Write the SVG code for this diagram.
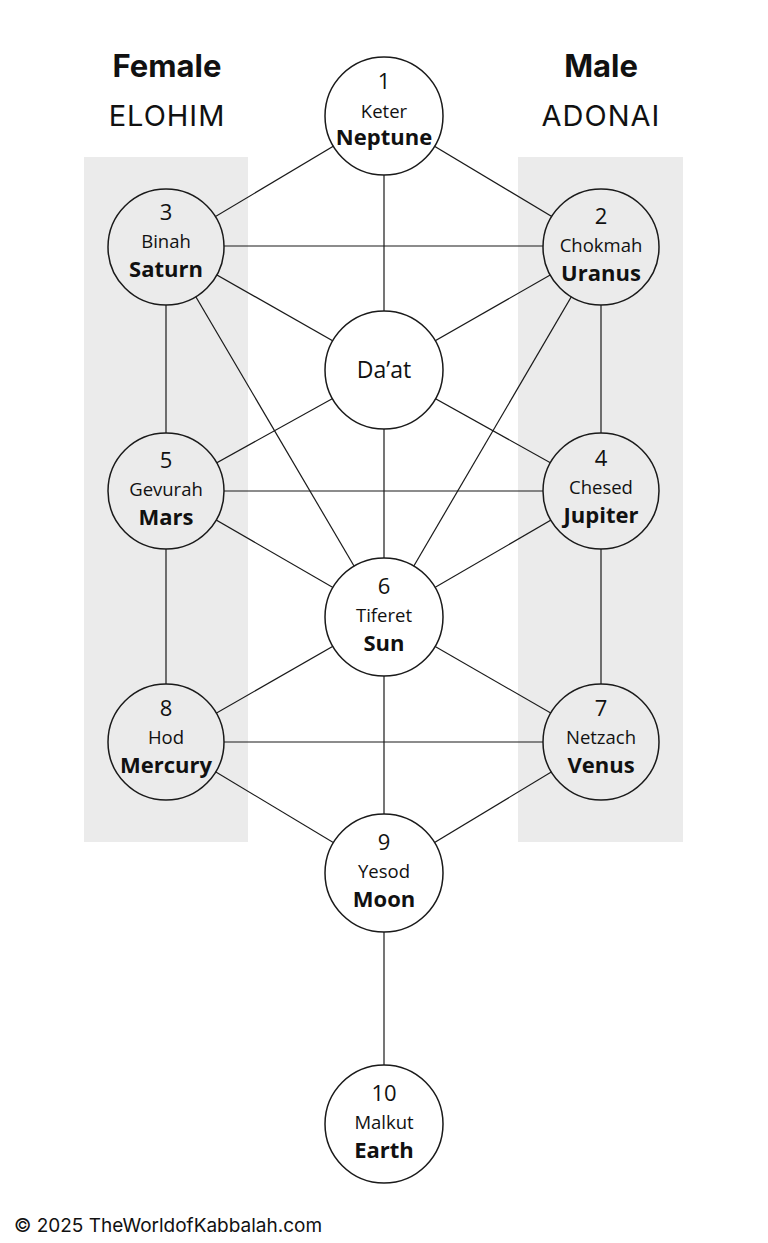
<svg xmlns="http://www.w3.org/2000/svg" width="768" height="1243" viewBox="0 0 768 1243">
<style>
.panel{fill:#ebebeb}
.c{stroke:#1a1a1a;stroke-width:1.5}
.w{fill:#ffffff}
.g{fill:#ebebeb}
.ln{stroke:#1a1a1a;stroke-width:1.2;fill:none}
text{font-family:"Open Sans","Liberation Sans",sans-serif;fill:#111;text-anchor:middle}
.num{font-size:22px}
.nm{font-size:18.5px}
.pl{font-size:22px;font-weight:bold}
.title{font-family:Inter,"Liberation Sans",sans-serif;font-size:31px;font-weight:bold}
.sub{font-family:Inter,"Liberation Sans",sans-serif;font-size:29px;letter-spacing:1px}
.foot{font-family:Inter,"Liberation Sans",sans-serif;font-size:19px;text-anchor:start}
</style>
<rect class="panel" x="84" y="157" width="164" height="685"/>
<rect class="panel" x="518" y="157" width="165" height="685"/>
<text class="title" x="167" y="77">Female</text>
<text class="sub" x="167" y="126">ELOHIM</text>
<text class="title" x="601" y="77">Male</text>
<text class="sub" x="601" y="126">ADONAI</text>
<g id="connectors">
<line class="ln" x1="384" y1="116" x2="166" y2="246"/>
<line class="ln" x1="384" y1="116" x2="601" y2="246"/>
<line class="ln" x1="384" y1="116" x2="384" y2="370"/>
<line class="ln" x1="166" y1="246" x2="601" y2="246"/>
<line class="ln" x1="166" y1="246" x2="384" y2="370"/>
<line class="ln" x1="601" y1="246" x2="384" y2="370"/>
<line class="ln" x1="166" y1="246" x2="166" y2="491"/>
<line class="ln" x1="601" y1="246" x2="601" y2="491"/>
<line class="ln" x1="166" y1="246" x2="384" y2="617"/>
<line class="ln" x1="601" y1="246" x2="384" y2="617"/>
<line class="ln" x1="384" y1="370" x2="166" y2="491"/>
<line class="ln" x1="384" y1="370" x2="601" y2="491"/>
<line class="ln" x1="384" y1="370" x2="384" y2="617"/>
<line class="ln" x1="166" y1="491" x2="601" y2="491"/>
<line class="ln" x1="166" y1="491" x2="384" y2="617"/>
<line class="ln" x1="601" y1="491" x2="384" y2="617"/>
<line class="ln" x1="166" y1="491" x2="166" y2="742"/>
<line class="ln" x1="601" y1="491" x2="601" y2="742"/>
<line class="ln" x1="384" y1="617" x2="166" y2="742"/>
<line class="ln" x1="384" y1="617" x2="601" y2="742"/>
<line class="ln" x1="384" y1="617" x2="384" y2="873"/>
<line class="ln" x1="166" y1="742" x2="601" y2="742"/>
<line class="ln" x1="166" y1="742" x2="384" y2="873"/>
<line class="ln" x1="601" y1="742" x2="384" y2="873"/>
<line class="ln" x1="384" y1="873" x2="384" y2="1124"/>
</g>
<g id="keter"><circle class="c w" cx="384" cy="116" r="59"/><text class="num" x="384" y="89">1</text><text class="nm" x="384" y="118">Keter</text><text class="pl" x="384" y="145">Neptune</text></g>
<g id="binah"><circle class="c g" cx="166" cy="247" r="58"/><text class="num" x="166" y="220">3</text><text class="nm" x="166" y="248">Binah</text><text class="pl" x="166" y="277">Saturn</text></g>
<g id="chokmah"><circle class="c g" cx="601" cy="247" r="58"/><text class="num" x="601" y="224">2</text><text class="nm" x="601" y="252">Chokmah</text><text class="pl" x="601" y="281">Uranus</text></g>
<g id="daat"><circle class="c w" cx="384" cy="370" r="59"/><text x="384" y="378" style="font-size:23px">Da’at</text></g>
<g id="gevurah"><circle class="c g" cx="166" cy="491" r="58"/><text class="num" x="166" y="468">5</text><text class="nm" x="166" y="496">Gevurah</text><text class="pl" x="166" y="525">Mars</text></g>
<g id="chesed"><circle class="c g" cx="601" cy="491" r="58"/><text class="num" x="601" y="466">4</text><text class="nm" x="601" y="494">Chesed</text><text class="pl" x="601" y="523">Jupiter</text></g>
<g id="tiferet"><circle class="c w" cx="384" cy="617" r="59"/><text class="num" x="384" y="594">6</text><text class="nm" x="384" y="622">Tiferet</text><text class="pl" x="384" y="651">Sun</text></g>
<g id="hod"><circle class="c g" cx="166" cy="742" r="58"/><text class="num" x="166" y="716">8</text><text class="nm" x="166" y="744">Hod</text><text class="pl" x="166" y="773">Mercury</text></g>
<g id="netzach"><circle class="c g" cx="601" cy="742" r="58"/><text class="num" x="601" y="716">7</text><text class="nm" x="601" y="744">Netzach</text><text class="pl" x="601" y="773">Venus</text></g>
<g id="yesod"><circle class="c w" cx="384" cy="873" r="59"/><text class="num" x="384" y="850">9</text><text class="nm" x="384" y="878">Yesod</text><text class="pl" x="384" y="907">Moon</text></g>
<g id="malkut"><circle class="c w" cx="384" cy="1124" r="59"/><text class="num" x="384" y="1101">10</text><text class="nm" x="384" y="1129">Malkut</text><text class="pl" x="384" y="1158">Earth</text></g>
<text class="foot" x="14" y="1232">© 2025 TheWorldofKabbalah.com</text>
</svg>
